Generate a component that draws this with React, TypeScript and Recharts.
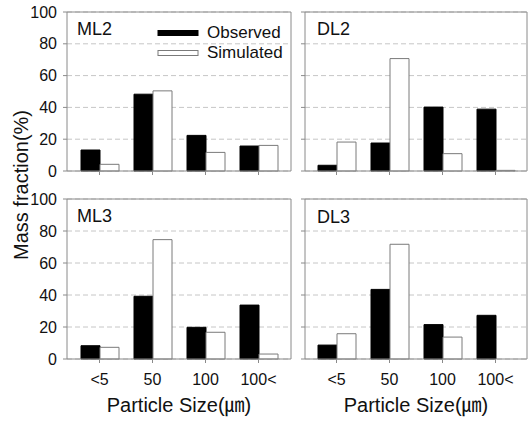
import React from 'react';
import { BarChart, Bar, XAxis, YAxis, CartesianGrid, Legend } from 'recharts';

const categories = ['<5', '50', '100', '100<'];
const yTicks = [0, 20, 40, 60, 80, 100];

const ml2Observed = [13.2, 48.3, 22.4, 15.7];
const ml2Simulated = [4.2, 50.4, 11.7, 16.1];
const dl2Observed = [3.6, 17.6, 40.2, 38.9];
const dl2Simulated = [18.2, 70.7, 10.9, 0.4];
const ml3Observed = [8.3, 39.2, 19.8, 33.7];
const ml3Simulated = [7.3, 74.6, 16.7, 3.1];
const dl3Observed = [8.7, 43.5, 21.5, 27.3];
const dl3Simulated = [15.8, 71.7, 13.7, 0];

const FONT = "'Liberation Sans', Arial, 'Noto Sans CJK KR', sans-serif";
const AXIS = '#8a8a8a';
const TEXT = '#111';

const buildRows = (obs: number[], sim: number[]) =>
  categories.map((cat, i) => ({ cat, observed: obs[i], simulated: sim[i] }));

const EmptyTick = () => <g />;

const renderLegend = (props: any) => {
  const payload = props.payload || [];
  return (
    <div style={{ fontFamily: FONT, fontSize: 17, color: TEXT, lineHeight: '20px' }}>
      {payload.map((e: any) => {
        const fill = e.color || '#000';
        const stroke = (e.payload && e.payload.stroke) || '#000';
        return (
          <div key={e.value} style={{ display: 'flex', alignItems: 'center', height: 20 }}>
            <svg width={42} height={8} style={{ marginRight: 8, display: 'block' }}>
              <rect x={1} y={1.5} width={40} height={5} fill={fill} stroke={stroke} />
            </svg>
            <span>{e.value}</span>
          </div>
        );
      })}
    </div>
  );
};

type Rect = { x: number; y: number; w: number; h: number };

function Panel({
  obs,
  sim,
  plot,
  pad,
  yLabels,
  xLabels,
  legend,
}: {
  obs: number[];
  sim: number[];
  plot: Rect;
  pad: number;
  yLabels: boolean;
  xLabels: boolean;
  legend: boolean;
}) {
  const axisH = xLabels ? 30 : 10;
  const left = plot.x - 60;
  const top = plot.y - 12;
  const width = plot.w + 64;
  const height = plot.h + 12 + axisH + 4;
  const rows = buildRows(obs, sim);
  return (
    <div style={{ position: 'absolute', left, top }}>
      <BarChart
        width={width}
        height={height}
        data={rows}
        margin={{ top: 11, left: 20, right: 3, bottom: 4 }}
        barCategoryGap={8}
        barGap={0}
      >
        <CartesianGrid vertical={false} stroke="#c6c6c6" strokeDasharray="5 3" />
        <XAxis
          dataKey="cat"
          height={axisH}
          padding={{ left: pad, right: pad }}
          axisLine={{ stroke: AXIS }}
          tickLine={{ stroke: AXIS }}
          tickSize={4}
          tickMargin={11}
          interval={0}
          tick={xLabels ? { fill: TEXT, fontSize: 16, fontFamily: FONT } : EmptyTick}
        />
        <XAxis
          xAxisId="top"
          orientation="top"
          dataKey="cat"
          height={1}
          padding={{ left: pad, right: pad }}
          axisLine={{ stroke: AXIS }}
          tickLine={false}
          tick={false}
        />
        <YAxis
          type="number"
          width={40}
          domain={[0, 100]}
          ticks={yTicks}
          interval={0}
          axisLine={{ stroke: AXIS }}
          tickLine={{ stroke: AXIS }}
          tickSize={4}
          tickMargin={6}
          tick={yLabels ? { fill: TEXT, fontSize: 16, fontFamily: FONT } : EmptyTick}
        />
        <YAxis
          yAxisId="right"
          orientation="right"
          type="number"
          width={1}
          domain={[0, 100]}
          axisLine={{ stroke: AXIS }}
          tickLine={false}
          tick={false}
        />
        <Bar dataKey="observed" name="Observed" fill="#000" stroke="#000" isAnimationActive={false} />
        <Bar dataKey="simulated" name="Simulated" fill="#fff" stroke="#7a7a7a" isAnimationActive={false} />
        {legend && (
          <Legend
            layout="horizontal"
            verticalAlign="middle"
            align="center"
            content={renderLegend}
            wrapperStyle={{ left: 150, top: 23, width: 'auto' }}
          />
        )}
      </BarChart>
    </div>
  );
}

export default function App() {
  return (
    <div
      style={{
        position: 'absolute',
        left: 0,
        top: 0,
        width: 528,
        height: 423,
        background: '#fff',
        overflow: 'hidden',
      }}
    >
      <Panel obs={ml2Observed} sim={ml2Simulated} plot={{ x: 67, y: 12, w: 224, h: 159 }} pad={6} yLabels xLabels={false} legend />
      <Panel obs={dl2Observed} sim={dl2Simulated} plot={{ x: 305, y: 12, w: 222, h: 159 }} pad={5} yLabels={false} xLabels={false} legend={false} />
      <Panel obs={ml3Observed} sim={ml3Simulated} plot={{ x: 67, y: 199, w: 224, h: 160 }} pad={6} yLabels xLabels legend={false} />
      <Panel obs={dl3Observed} sim={dl3Simulated} plot={{ x: 305, y: 199, w: 222, h: 160 }} pad={5} yLabels={false} xLabels legend={false} />
      <svg
        width={528}
        height={423}
        style={{ position: 'absolute', left: 0, top: 0, pointerEvents: 'none' }}
        fontFamily={FONT}
        fill={TEXT}
      >
        <text x={77} y={35} fontSize={18}>ML2</text>
        <text x={317} y={35} fontSize={18}>DL2</text>
        <text x={77} y={222} fontSize={18}>ML3</text>
        <text x={317} y={223} fontSize={18}>DL3</text>
        <text x={28} y={185} fontSize={20} textAnchor="middle" transform="rotate(-90 28 185)">
          Mass fraction(%)
        </text>
        <text x={179} y={412} fontSize={20} textAnchor="middle">Particle Size(㎛)</text>
        <text x={416} y={412} fontSize={20} textAnchor="middle">Particle Size(㎛)</text>
      </svg>
    </div>
  );
}
